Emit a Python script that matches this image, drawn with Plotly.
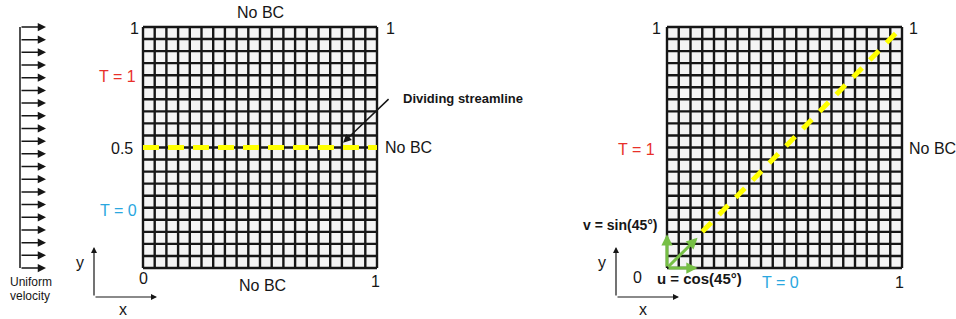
import plotly.graph_objects as go

# ---------------- data ----------------
n_cells = 20                      # grid cells per side
n_inflow_arrows = 20              # uniform velocity arrows
streamline_y = [0.5, 0.5]         # left: horizontal dividing streamline
streamline_x = [0.0, 1.0]
diag_x = [0.15, 0.985]            # right: diagonal dividing streamline (45°)
diag_y = [0.15, 0.985]
vel_u = 0.13                      # u = cos(45°) arrow length (drawn)
vel_v = 0.14                      # v = sin(45°) arrow length (drawn)
corner_ticks = ["0", "0.5", "1"]

W, H = 956, 319
PAD = 0.03
FONT = "Liberation Sans, Arial, sans-serif"
RED = "#e8302a"
BLUE = "#2aa7df"
YELLOW = "#ffff00"
GREEN = "#76bf45"
INK = "#161616"


def xdom(p0, p1):
    u = p1 - p0
    return [(p0 - PAD * u) / W, (p1 + PAD * u) / W]


def ydom(top, bot):
    u = bot - top
    return [1 - (bot + PAD * u) / H, 1 - (top - PAD * u) / H]


def px(x):
    return x / W


def py(y):
    return 1 - y / H


fig = go.Figure()

axis_common = dict(visible=False, range=[-PAD, 1 + PAD], fixedrange=True)
fig.update_layout(
    width=W, height=H, margin=dict(l=0, r=0, t=0, b=0),
    paper_bgcolor="white", plot_bgcolor="rgba(0,0,0,0)", showlegend=False,
    xaxis=dict(domain=xdom(143, 377), anchor="y", **axis_common),
    yaxis=dict(domain=ydom(27, 268), anchor="x", **axis_common),
    xaxis2=dict(domain=xdom(667, 902), anchor="y2", **axis_common),
    yaxis2=dict(domain=ydom(27, 268), anchor="x2", **axis_common),
    xaxis3=dict(domain=[0, 80 / W], range=[0, 80], anchor="y", visible=False, fixedrange=True),
)

shapes = []
annotations = []

# ---------------- grids ----------------
for xa, ya in [("x", "y"), ("x2", "y2")]:
    shapes.append(dict(type="rect", xref=xa, yref=ya, x0=0, x1=1, y0=0, y1=1,
                       fillcolor="#f4f4f4", line=dict(width=0), layer="below"))
    gx, gy = [], []
    for i in range(n_cells + 1):
        t = i / n_cells
        gx += [t, t, None, 0, 1, None]
        gy += [0, 1, None, t, t, None]
    fig.add_trace(go.Scatter(x=gx, y=gy, xaxis=xa, yaxis=ya, mode="lines",
                             line=dict(color=INK, width=2.4), hoverinfo="skip"))

# ---------------- dividing streamlines ----------------
fig.add_trace(go.Scatter(x=streamline_x, y=streamline_y, xaxis="x", yaxis="y", mode="lines",
                         line=dict(color=YELLOW, width=5, dash="16px,9px"), hoverinfo="skip"))
fig.add_trace(go.Scatter(x=diag_x, y=diag_y, xaxis="x2", yaxis="y2", mode="lines",
                         line=dict(color=YELLOW, width=5, dash="13px,11px"), hoverinfo="skip"))

# ---------------- uniform velocity arrows ----------------
arrow_rows = [i / (n_inflow_arrows - 1) for i in range(n_inflow_arrows)]
fig.add_trace(go.Scatter(x=[20, 20], y=[arrow_rows[0], arrow_rows[-1]], xaxis="x3", yaxis="y",
                         mode="lines", line=dict(color=INK, width=1.5), hoverinfo="skip"))
for yv in arrow_rows:
    annotations.append(dict(xref="x3", yref="y", axref="x3", ayref="y", x=46, y=yv, ax=20, ay=yv,
                            text="", showarrow=True, arrowhead=2, arrowsize=1.1,
                            arrowwidth=1.5, arrowcolor=INK))

# ---------------- green velocity components (right) ----------------
for tx, ty in [(0, vel_v), (vel_u, 0), (vel_u, vel_v * 0.9)]:
    annotations.append(dict(xref="x2", yref="y2", axref="x2", ayref="y2", x=tx, y=ty, ax=0, ay=0,
                            text="", showarrow=True, arrowhead=2, arrowsize=0.75,
                            arrowwidth=3, arrowcolor=GREEN))

# ---------------- dividing streamline pointer ----------------
annotations.append(dict(xref="x", yref="y", x=0.855, y=0.52, ax=47, ay=-45,
                        text="", showarrow=True, arrowhead=2, arrowsize=1.1,
                        arrowwidth=1.5, arrowcolor=INK))

# ---------------- coordinate axes sketches ----------------
for ox, oy in [(94, 297), (616, 297)]:
    annotations.append(dict(xref="paper", yref="paper", x=px(ox), y=py(oy - 50),
                            ax=0, ay=50, text="", showarrow=True, arrowhead=2,
                            arrowsize=1, arrowwidth=1.2, arrowcolor=INK))
    annotations.append(dict(xref="paper", yref="paper", x=px(ox + 63), y=py(oy),
                            ax=-63, ay=0, text="", showarrow=True, arrowhead=2,
                            arrowsize=1, arrowwidth=1.2, arrowcolor=INK))

# ---------------- text labels ----------------
labels = [
    # (text, x_px, y_px, size, color, bold)
    ("No BC", 260, 13, 16, INK, False),
    (corner_ticks[2], 134, 28, 16, INK, False),
    (corner_ticks[2], 390, 28, 16, INK, False),
    ("T = 1", 117, 76, 16, RED, False),
    (corner_ticks[1], 122, 148, 16, INK, False),
    ("T = 0", 118, 210, 16, BLUE, False),
    (corner_ticks[0], 143, 278, 16, INK, False),
    (corner_ticks[2], 375, 281, 16, INK, False),
    ("No BC", 262, 285, 16, INK, False),
    ("No BC", 408, 147, 16, INK, False),
    ("Dividing streamline", 463, 98, 13, INK, True),
    ("Uniform", 31, 282, 12, INK, False),
    ("velocity", 30, 296, 12, INK, False),
    ("y", 80, 262, 16, INK, False),
    ("x", 123, 309, 16, INK, False),
    # right panel
    (corner_ticks[2], 656, 28, 16, INK, False),
    (corner_ticks[2], 913, 28, 16, INK, False),
    ("T = 1", 636, 149, 16, RED, False),
    ("No BC", 932, 148, 16, INK, False),
    ("v = sin(45°)", 620, 225, 14, INK, True),
    ("u = cos(45°)", 699, 278, 15, INK, True),
    ("T = 0", 780, 282, 16, BLUE, False),
    (corner_ticks[2], 899, 282, 16, INK, False),
    (corner_ticks[0], 637, 277, 16, INK, False),
    ("y", 602, 262, 16, INK, False),
    ("x", 643, 309, 16, INK, False),
]
for text, x, y, size, color, bold in labels:
    annotations.append(dict(xref="paper", yref="paper", x=px(x), y=py(y),
                            xanchor="center", yanchor="middle", showarrow=False,
                            text=f"<b>{text}</b>" if bold else text,
                            font=dict(family=FONT, size=size, color=color)))

fig.update_layout(shapes=shapes, annotations=annotations)
fig.write_html("out.html", config={"displayModeBar": False},
               post_script="document.body.style.margin='0';")
